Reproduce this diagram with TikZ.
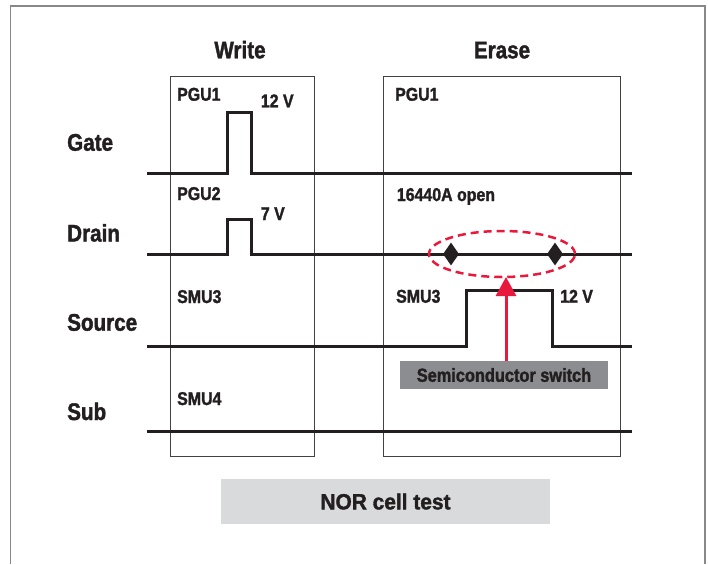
\documentclass[tikz,border=0pt]{standalone}
\usepackage{fontspec}
\newfontfamily\condb{Liberation Sans Bold}[FakeStretch=0.86,FakeBold=1.6]
\newfontfamily\norfont{Liberation Sans Bold}[FakeStretch=0.95,FakeBold=1.6]
\usetikzlibrary{arrows.meta,shapes.geometric}
\definecolor{txt}{HTML}{231F20}
\definecolor{framecol}{HTML}{888888}
\definecolor{sred}{HTML}{E8193C}
\definecolor{dgray}{HTML}{8C8D90}
\definecolor{lgray}{HTML}{D9DADB}
\begin{document}
\begin{tikzpicture}[x=1pt,y=-1pt,
  big/.style={font=\condb\fontsize{24}{28}\selectfont, text=txt, inner sep=0, anchor=base west},
  title/.style={font=\condb\fontsize{24}{28}\selectfont, text=txt, inner sep=0, anchor=base},
  small/.style={font=\condb\fontsize{18.5}{22}\selectfont, text=txt, inner sep=0, anchor=base west},
  sig/.style={line width=3pt, draw=txt, line join=miter},
  panel/.style={draw=txt!85, line width=1pt},
  switchmark/.style={diamond, fill=txt, minimum width=16pt, minimum height=23pt, inner sep=0},
]
\useasboundingbox (0,0) rectangle (708,564);
\draw[framecol, line width=1.8pt] (10.5,564) -- (10.5,6) -- (705,6) -- (705,564);

% panels
\draw[panel] (170,77) rectangle (314,456);
\draw[panel] (383,77) rectangle (620,456);

% titles
\node[title] (tw) at (240,58.3) {Write};
\node[title] (te) at (502,58.3) {Erase};

% row labels
\node[big] (lg) at (67,150.7) {Gate};
\node[big] (ld) at (67,241.5) {Drain};
\node[big] (ls) at (67,330.7) {Source};
\node[big] (lb) at (67,420) {Sub};

% write labels
\node[small] (w1) at (177,100.7) {PGU1};
\node[small] (w2) at (260.7,107.3) {12 V};
\node[small] (w3) at (177,200) {PGU2};
\node[small] (w4) at (260.7,220) {7 V};
\node[small] (w5) at (177,303) {SMU3};
\node[small] (w6) at (177,405) {SMU4};

% erase labels
\node[small] (e1) at (395,100.7) {PGU1};
\node[small] (e2) at (396.7,201) {16440A open};
\node[small] (e3) at (396,302.7) {SMU3};
\node[small] (e4) at (560,302.7) {12 V};

% signals
\draw[sig] (147,173) -- (227,173) -- (227,113) -- (251,113) -- (251,173) -- (632,173);
\draw[sig] (147,254) -- (227,254) -- (227,219) -- (251,219) -- (251,254) -- (632,254);
\draw[sig] (147,346) -- (466,346) -- (466,290) -- (552,290) -- (552,346) -- (632,346);
\draw[sig] (147,431) -- (632,431);

% open switch marks
\node[switchmark] (d1) at (451,254) {};
\node[switchmark] (d2) at (555,254) {};
\draw[sred, line width=2.5pt, dash pattern=on 8pt off 5pt] (502,254) ellipse [x radius=73pt, y radius=23pt];

% semiconductor switch
\node[fill=dgray, minimum width=208pt, minimum height=28pt, inner sep=0, text=txt,
      font=\condb\fontsize{19}{22}\selectfont] (sw) at (504,375) {Semiconductor switch};
\coordinate (tip) at (506,277);
\draw[sred, line width=3pt, -{Triangle[width=20pt,length=19pt]}] (sw.north -| tip) -- (tip);

% caption
\node[fill=lgray, minimum width=329pt, minimum height=45pt, inner sep=0, text=txt,
      font=\norfont\fontsize{22}{24}\selectfont] (nor) at (385.5,501.5) {NOR cell test};
\end{tikzpicture}
\end{document}
